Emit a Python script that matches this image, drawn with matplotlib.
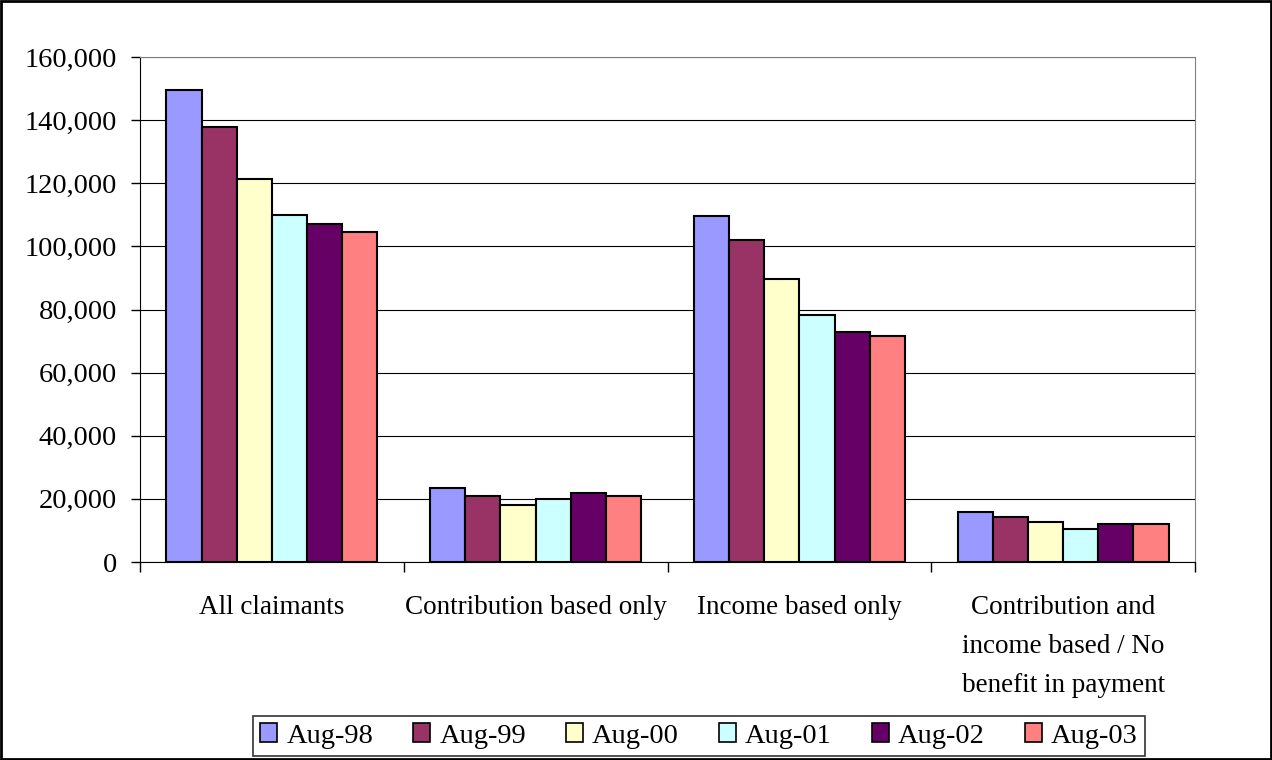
import numpy as np
import matplotlib
matplotlib.use("Agg")
import matplotlib.pyplot as plt
from matplotlib.patches import Rectangle

plt.rcParams['font.family'] = ['Liberation Serif', 'DejaVu Serif']

# 類別與數據
categories = ["All claimants", "Contribution based only", "Income based only",
              "Contribution and\nincome based / No\nbenefit in payment"]
series_names = ["Aug-98", "Aug-99", "Aug-00", "Aug-01", "Aug-02", "Aug-03"]
all_claimants = [149500, 137700, 121200, 110000, 107000, 104500]
contribution_only = [23600, 20800, 18200, 20000, 21800, 20800]
income_only = [109700, 102000, 89600, 78200, 72900, 71700]
contrib_and_income = [15900, 14100, 12800, 10600, 11900, 11900]
colors = ["#9999FF", "#993366", "#FFFFCC", "#CCFFFF", "#660066", "#FF8080"]

values = np.array([all_claimants, contribution_only, income_only, contrib_and_income]).T
FS = 20.5      # 刻度與圖例
FS_CAT = 19.5  # 類別標籤

fig = plt.figure(figsize=(12.72, 7.6), dpi=100)
ax = fig.add_axes([140 / 1272, 1 - 562 / 760, 1055 / 1272, 505 / 760])

x = np.arange(len(categories))
bw = 0.8 / len(series_names)
for i, name in enumerate(series_names):
    ax.bar(x - 0.4 + bw * (i + 0.5), values[i], width=bw, color=colors[i],
           edgecolor="black", linewidth=1.5, label=name, zorder=3)

ax.set_xlim(-0.5, len(categories) - 0.5)
ax.set_ylim(0, 160000)
ax.set_yticks(np.arange(0, 160001, 20000))
ax.set_yticklabels([f"{v:,}" for v in range(0, 160001, 20000)], fontsize=FS)
ax.yaxis.grid(True, color="black", linewidth=0.8, zorder=0)

ax.set_xticks(x)
ax.set_xticklabels(categories, fontsize=FS_CAT, linespacing=1.72)
ax.tick_params(axis="x", which="major", length=0, pad=24)
ax.set_xticks(np.arange(-0.5, len(categories), 1), minor=True)
ax.tick_params(axis="x", which="minor", length=7, width=1, direction="out")
ax.tick_params(axis="y", length=6.5, width=1, direction="out", pad=10)

ax.spines["left"].set_color("black")
ax.spines["bottom"].set_color("black")
ax.spines["right"].set_color("#808080")
ax.spines["top"].set_color("#808080")

leg = fig.legend(loc="center", bbox_to_anchor=(699 / 1272, 1 - 736 / 760), ncol=6,
                 fontsize=FS, frameon=True, fancybox=False, edgecolor="black",
                 handlelength=0.6, handleheight=0.6, handletextpad=0.32,
                 columnspacing=1.4, borderpad=0.25)
leg.get_frame().set_linewidth(1.2)
for h in leg.legend_handles:
    h.set_linewidth(1.2)

fig.patches.append(Rectangle((0.001, 0.001), 0.998, 0.998, transform=fig.transFigure,
                             fill=False, edgecolor="black", linewidth=2))

fig.savefig("out.png", dpi=100)
